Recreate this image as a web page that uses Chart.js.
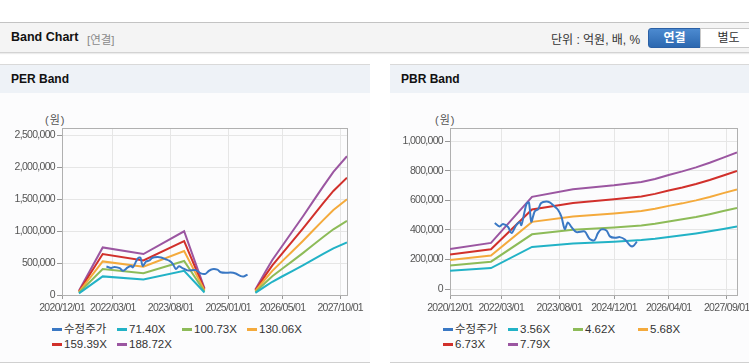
<!DOCTYPE html>
<html lang="ko">
<head>
<meta charset="utf-8">
<title>Band Chart</title>
<script src="https://cdn.jsdelivr.net/npm/chart.js@4.4.1/dist/chart.umd.min.js"></script>
<style>
  body { margin:0; width:749px; height:364px; overflow:hidden; background:#fff; position:relative;
         font-family:"Liberation Sans", "Noto Sans CJK KR", sans-serif; }
  .topBar { position:absolute; left:0; top:22px; width:749px; height:29px; background:#f4f4f4;
            border-top:1px solid #c3c3c3; border-bottom:1px solid #d3d3d3; box-shadow:0 1px 1px #ececec; }
  .topBar .title { position:absolute; left:11px; top:7px; font-weight:bold; font-size:12.5px; color:#111; }
  .topBar .sub { position:absolute; left:87px; top:8px; font-size:11.5px; color:#8a8a8a; }
  .topBar .unit { position:absolute; left:551px; top:7px; font-size:12px; color:#333; }
  .btn { position:absolute; top:5px; height:18px; line-height:18px; font-size:12px; text-align:center; }
  .btnOn { left:648px; width:51px; background:linear-gradient(#4c8ad0,#2c68b0); color:#fff; font-weight:bold;
           border:1px solid #2b60a5; border-radius:3px 0 0 3px; }
  .btnOff { left:700px; width:55px; background:#fff; color:#333; border:1px solid #c9c9c9; }
  .panel { position:absolute; top:64px; height:297px; background:#fcfcfd;
           border-top:1px solid #d9d9d9; border-bottom:1px solid #d0d0d0; }
  #perPanel { left:0; width:370px; }
  #pbrPanel { left:390px; width:400px; }
  .panel .head { height:28px; line-height:28px; background:#eef2f7; font-weight:bold; font-size:12px;
                 padding-left:11px; color:#111; }
  .panel canvas { position:absolute; left:0; top:28px; }
  .panel .won { position:absolute; left:45px; top:46px; font-size:11px; color:#555; letter-spacing:1px; }
  .legend { position:absolute; left:52px; top:257px; width:300px; height:30px; font-size:11.5px; color:#333; }
  .legend .item { position:absolute; height:14px; line-height:14px; white-space:nowrap; }
  .legend .sw { display:inline-block; width:10px; height:3px; margin-right:2px; vertical-align:middle; }
</style>
</head>
<body>

<div class="topBar">
  <span class="title">Band Chart</span>
  <span class="sub">[연결]</span>
  <span class="unit">단위 : 억원, 배, %</span>
  <span class="btn btnOn">연결</span>
  <span class="btn btnOff">별도</span>
</div>

<div class="panel" id="perPanel">
  <div class="head">PER Band</div>
  <span class="won">(원)</span>
  <canvas id="perChart" width="370" height="226"></canvas>
  <div class="legend" id="perLegend"></div>
</div>

<div class="panel" id="pbrPanel">
  <div class="head">PBR Band</div>
  <span class="won">(원)</span>
  <canvas id="pbrChart" width="400" height="226"></canvas>
  <div class="legend" id="pbrLegend" style="left:53px"></div>
</div>

<script>
// dati
var axisStart = '2020/12/01';
var axisEnd = '2027/12/01';

var priceLabel = '수정주가';
var priceDates = ['2022/01/04','2022/02/16','2022/03/16','2022/05/01','2022/06/01','2022/07/13','2022/08/13','2022/08/28',
  '2022/09/28','2022/10/13','2022/11/04','2022/11/25','2022/12/25','2023/01/25','2023/02/22','2023/04/07','2023/05/07',
  '2023/06/19','2023/07/19','2023/08/19','2023/09/19','2023/10/16','2023/11/16','2024/01/01','2024/03/13','2024/04/28',
  '2024/06/10','2024/07/10','2024/08/10','2024/09/25','2024/10/25','2024/12/10','2025/01/22','2025/03/07','2025/04/22',
  '2025/05/19','2025/06/22'];
var priceValues = [446000, 423000, 439000, 419000, 378000, 432000, 453000, 432000, 530000, 575000,
  585000, 455000, 524000, 540000, 582000, 592000, 585000, 558000, 536000, 490000,
  405000, 450000, 420000, 385000, 389000, 338000, 330000, 378000, 403000, 396000,
  356000, 346000, 351000, 335000, 295000, 290000, 320000];

// PER band
var perLabels = ['71.40X', '100.73X', '130.06X', '159.39X', '188.72X'];
var perBandDates = ['2021/05/01','2021/12/01','2022/12/01','2023/12/01','2024/06/01','2025/01/01','2025/09/01','2025/12/01',
  '2026/02/01','2026/05/01','2026/08/01','2026/11/01','2027/02/01','2027/05/01','2027/08/01','2027/12/01'];
var perBand71 = [25000, 291000, 242000, 377000, 39000, null, 32000, 139000, 207000, 293000, 378000, 464000, 553000, 643000, 728000, 821000];
var perBand100 = [35000, 406000, 341000, 532000, 55000, null, 45000, 196000, 292000, 413000, 534000, 655000, 781000, 907000, 1027000, 1158000];
var perBand130 = [46000, 525000, 441000, 687000, 72000, null, 59000, 254000, 377000, 533000, 689000, 845000, 1008000, 1171000, 1327000, 1496000];
var perBand159 = [56000, 640000, 540000, 842000, 88000, null, 72000, 311000, 462000, 654000, 845000, 1036000, 1235000, 1435000, 1626000, 1833000];
var perBand188 = [66000, 744000, 640000, 996000, 104000, null, 85000, 368000, 547000, 774000, 1000000, 1227000, 1463000, 1698000, 1925000, 2170000];
var perXTicks = ['2020/12/01', '2022/03/01', '2023/08/01', '2025/01/01', '2026/05/01', '2027/10/01'];
var perYTicks = [0, 500000, 1000000, 1500000, 2000000, 2500000];
var perYMin = 0;
var perYMax = 2610000;

// PBR band
var pbrLabels = ['3.56X', '4.62X', '5.68X', '6.73X', '7.79X'];
var pbrBandDates = ['2020/12/01','2021/12/01','2022/12/01','2023/12/01','2024/12/01','2025/08/01','2025/12/01',
  '2026/04/01','2026/08/01','2026/12/01','2027/04/01','2027/08/01','2027/12/01'];
var pbrBand356 = [123000, 142000, 285000, 308000, 320000, 331000, 340000, 352000, 363000, 376000, 390000, 406000, 422000];
var pbrBand462 = [160000, 185000, 370000, 400000, 416000, 430000, 441000, 457000, 471000, 487000, 506000, 527000, 547000];
var pbrBand568 = [197000, 227000, 454000, 491000, 511000, 528000, 542000, 562000, 579000, 599000, 622000, 648000, 673000];
var pbrBand673 = [233000, 269000, 538000, 582000, 606000, 626000, 643000, 666000, 686000, 710000, 737000, 767000, 798000];
var pbrBand779 = [270000, 312000, 623000, 674000, 701000, 724000, 744000, 771000, 795000, 822000, 853000, 888000, 923000];
var pbrXTicks = ['2020/12/01', '2022/03/01', '2023/08/01', '2024/12/01', '2026/04/01', '2027/09/01'];
var pbrYTicks = [0, 200000, 400000, 600000, 800000, 1000000];
var pbrYMin = -40000;
var pbrYMax = 1088000;

var priceColor = '#3a78c4';
var bandColors = ['#22b2c6', '#8dbb58', '#f4aa3c', '#d1302b', '#9b56a1'];

Chart.defaults.font.family = '"Liberation Sans", sans-serif';
Chart.defaults.font.size = 10.5;
Chart.defaults.color = '#555';

//mesi passati dall'inizio dell'asse
function monthIndex(dateStr) {
  var p = dateStr.split('/');
  var start = axisStart.split('/');
  return (Number(p[0]) - Number(start[0])) * 12 + (Number(p[1]) - Number(start[1])) + (Number(p[2]) - 1) / 30.4;
}

function toPoints(dates, values) {
  var pts = [];
  for (var i = 0; i < dates.length; i++) {
    pts.push({ x: monthIndex(dates[i]), y: values[i] });
  }
  return pts;
}

//riquadro attorno all'area del grafico + etichette piu strette
var plotBox = {
  id: 'plotBox',
  beforeDraw: function (chart) {
    chart.ctx.letterSpacing = '-0.7px';
  },
  beforeDatasetsDraw: function (chart) {
    var a = chart.chartArea;
    var c = chart.ctx;
    c.save();
    c.strokeStyle = '#b0b0b0';
    c.lineWidth = 1;
    c.strokeRect(Math.round(a.left) + 0.5, Math.round(a.top) + 0.5, Math.round(a.right - a.left), Math.round(a.bottom - a.top));
    c.restore();
  }
};

function buildChart(canvasId, bandDates, bands, labels, xTicks, yTicks, yMin, yMax, yWidth, padRight) {
  var datasets = [{
    label: priceLabel,
    data: toPoints(priceDates, priceValues),
    borderColor: priceColor,
    borderWidth: 2,
    pointRadius: 0,
    tension: 0.3
  }];
  for (var i = 0; i < bands.length; i++) {
    datasets.push({
      label: labels[i],
      data: toPoints(bandDates, bands[i]),
      borderColor: bandColors[i],
      borderWidth: 2,
      pointRadius: 0,
      tension: 0
    });
  }
  var ctx = document.getElementById(canvasId).getContext('2d');
  return new Chart(ctx, {
    type: 'line',
    data: { datasets: datasets },
    options: {
      responsive: false,
      animation: false,
      layout: { padding: { top: 35, right: padRight, bottom: 0, left: 0 } },
      plugins: { legend: { display: false }, tooltip: { enabled: false } },
      scales: {
        x: {
          type: 'linear',
          min: monthIndex(axisStart),
          max: monthIndex(axisEnd),
          afterBuildTicks: function (s) {
            s.ticks = xTicks.map(function (d) { return { value: monthIndex(d) }; });
          },
          afterFit: function (s) { s.height = 24; },
          ticks: {
            autoSkip: false, maxRotation: 0, minRotation: 0, padding: 3, color: '#555',
            callback: function (v, i) { return xTicks[i]; }
          },
          grid: { color: '#e6e6e6', tickColor: '#999', tickLength: 4 },
          border: { display: false }
        },
        y: {
          min: yMin,
          max: yMax,
          afterBuildTicks: function (s) {
            s.ticks = yTicks.map(function (v) { return { value: v }; });
          },
          afterFit: function (s) { s.width = yWidth; },
          ticks: {
            padding: 2, color: '#555',
            callback: function (v) { return v.toLocaleString('en-US'); }
          },
          grid: { color: '#e6e6e6', tickColor: '#999', tickLength: 5 },
          border: { display: false }
        }
      }
    },
    plugins: [plotBox]
  });
}

//legenda html con le stesse etichette
function buildLegend(id, labels) {
  var box = document.getElementById(id);
  var names = [priceLabel].concat(labels);
  var colors = [priceColor].concat(bandColors);
  for (var i = 0; i < names.length; i++) {
    var item = document.createElement('div');
    item.className = 'item';
    item.style.left = (i % 4) * 65 + 'px';
    item.style.top = Math.floor(i / 4) * 15 + 'px';
    item.innerHTML = '<span class="sw" style="background:' + colors[i] + '"></span>' + names[i];
    box.appendChild(item);
  }
}

function init() {
  buildChart('perChart', perBandDates, [perBand71, perBand100, perBand130, perBand159, perBand188],
    perLabels, perXTicks, perYTicks, perYMin, perYMax, 62, 23);
  buildChart('pbrChart', pbrBandDates, [pbrBand356, pbrBand462, pbrBand568, pbrBand673, pbrBand779],
    pbrLabels, pbrXTicks, pbrYTicks, pbrYMin, pbrYMax, 60, 53);
  buildLegend('perLegend', perLabels);
  buildLegend('pbrLegend', pbrLabels);
}

init();
</script>
</body>
</html>
